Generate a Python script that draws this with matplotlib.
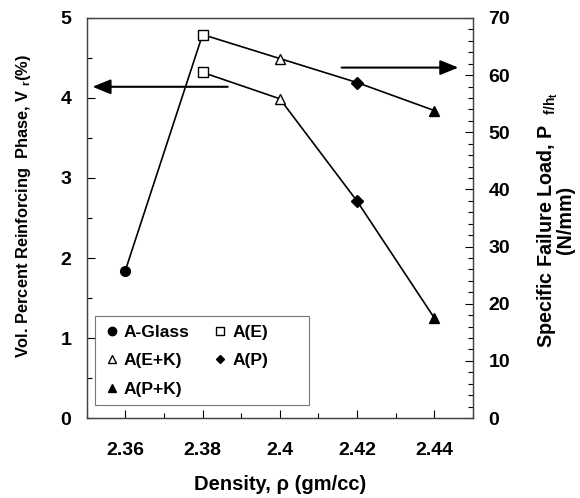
import matplotlib
matplotlib.use("Agg")
import matplotlib.pyplot as plt
from matplotlib.ticker import MultipleLocator, FormatStrFormatter
from matplotlib.lines import Line2D
from matplotlib.patches import Rectangle

plt.rcParams['font.family'] = ['Liberation Sans', 'DejaVu Sans']
plt.rcParams['font.weight'] = 'bold'
plt.rcParams['mathtext.fontset'] = 'custom'
plt.rcParams['mathtext.rm'] = 'Liberation Sans:bold'
plt.rcParams['mathtext.it'] = 'Liberation Sans:bold'
plt.rcParams['mathtext.bf'] = 'Liberation Sans:bold'
plt.rcParams['mathtext.default'] = 'rm'

# Data
density_load = [2.36, 2.38, 2.40, 2.42, 2.44]
failure_load = [25.8, 67.1, 62.9, 58.7, 53.8]
density_vr = [2.38, 2.40, 2.42, 2.44]
vol_percent = [4.32, 3.99, 2.71, 1.25]
x_ticks = [2.36, 2.38, 2.40, 2.42, 2.44]

labels = ['A-Glass', 'A(E)', 'A(E+K)', 'A(P)', 'A(P+K)']
load_markers = ['o', 's', '^', 'D', '^']
load_fill = ['k', 'white', 'white', 'k', 'k']
vr_markers = ['s', '^', 'D', '^']
vr_fill = ['white', 'white', 'k', 'k']
msizes = {'o': 7, 's': 7, '^': 7.5, 'D': 6}

fig = plt.figure(figsize=(5.8, 4.98), dpi=100)
ax = fig.add_axes([0.1495, 0.1606, 0.8155 - 0.1495, 0.9639 - 0.1606])
ax2 = ax.twinx()

ax.set_xlim(2.35, 2.45)
ax.set_ylim(0, 5)
ax2.set_ylim(0, 70)

# Vr series (left axis)
ax.plot(density_vr, vol_percent, color='k', lw=1.2, zorder=2)
for x, y, m, f in zip(density_vr, vol_percent, vr_markers, vr_fill):
    ax.plot([x], [y], marker=m, ms=msizes[m], mfc=f, mec='k', mew=1.0, ls='none', zorder=3)

# Failure load series (right axis)
ax2.plot(density_load, failure_load, color='k', lw=1.2, zorder=2)
for x, y, m, f in zip(density_load, failure_load, load_markers, load_fill):
    ax2.plot([x], [y], marker=m, ms=msizes[m], mfc=f, mec='k', mew=1.0, ls='none', zorder=3)

# Arrows
arrow_kw = dict(arrowstyle='-|>,head_length=1.1,head_width=0.45', color='k', lw=1.5,
                shrinkA=0, shrinkB=0)
ax.annotate('', xy=(2.3515, 4.14), xytext=(2.3865, 4.14), arrowprops=arrow_kw)
ax.annotate('', xy=(2.4462, 4.38), xytext=(2.416, 4.38), arrowprops=arrow_kw)

# Ticks
ax.set_xticks(x_ticks)
ax.xaxis.set_major_formatter(FormatStrFormatter('%g'))
ax.xaxis.set_minor_locator(MultipleLocator(0.01))
ax.yaxis.set_major_locator(MultipleLocator(1))
ax.yaxis.set_minor_locator(MultipleLocator(0.5))
ax2.yaxis.set_major_locator(MultipleLocator(10))
ax2.yaxis.set_minor_locator(MultipleLocator(2))

ax.tick_params(axis='x', which='both', direction='in', top=False, labelsize=14, pad=17.5)
ax.tick_params(axis='y', which='both', direction='in', right=False, labelsize=14, pad=11)
ax.tick_params(which='major', length=6, width=0.8)
ax.tick_params(which='minor', length=3.5, width=0.8)
ax2.tick_params(axis='y', which='both', direction='in', labelsize=14, pad=11)
ax2.tick_params(which='major', length=6, width=0.8)
ax2.tick_params(which='minor', length=3.5, width=0.8)
for lab in ax.get_xticklabels() + ax.get_yticklabels() + ax2.get_yticklabels():
    lab.set_fontweight('bold')

for a in (ax, ax2):
    for s in a.spines.values():
        s.set_linewidth(0.9)
        s.set_color('#444444')

ax.set_xlabel('Density, \u03c1 (gm/cc)', fontsize=14.5, fontweight='bold')
ax.xaxis.set_label_coords(0.5, -0.1425)
ax.set_ylabel('Vol. Percent Reinforcing  Phase, V $_{r}$(%)', fontsize=11.8,
              fontweight='bold')
ax.yaxis.set_label_coords(-0.140, 0.53)
ax2.set_ylabel('Specific Failure Load, P  $_{f/h_{t}}$\n(N/mm)', fontsize=14.2,
               fontweight='bold', linespacing=0.76)
ax2.yaxis.set_label_coords(1.161, 0.495)

# Legend
handles = [
    Line2D([], [], marker='o', ls='none', ms=6, mfc='k', mec='k'),
    Line2D([], [], marker='^', ls='none', ms=6, mfc='white', mec='k'),
    Line2D([], [], marker='^', ls='none', ms=6, mfc='k', mec='k'),
    Line2D([], [], marker='s', ls='none', ms=6, mfc='white', mec='k'),
    Line2D([], [], marker='D', ls='none', ms=4.5, mfc='k', mec='k'),
]
leg_labels = [labels[0], labels[2], labels[4], labels[1], labels[3]]
leg = ax2.legend(handles, leg_labels, ncol=2, loc='upper left',
                 bbox_to_anchor=(0.0215, 0.256), borderaxespad=0,
                 frameon=False,
                 prop={'weight': 'bold', 'size': 12.5},
                 handlelength=0.8, handletextpad=0.3, columnspacing=1.37,
                 labelspacing=0.75, borderpad=0.55)
leg.set_zorder(6)
frame = Rectangle((0.0215, 0.0325), 0.554, 0.2235, transform=ax2.transAxes,
                  facecolor='white', edgecolor='#777777', lw=0.8, zorder=5)
ax2.add_patch(frame)

fig.savefig('out.png', dpi=100)
